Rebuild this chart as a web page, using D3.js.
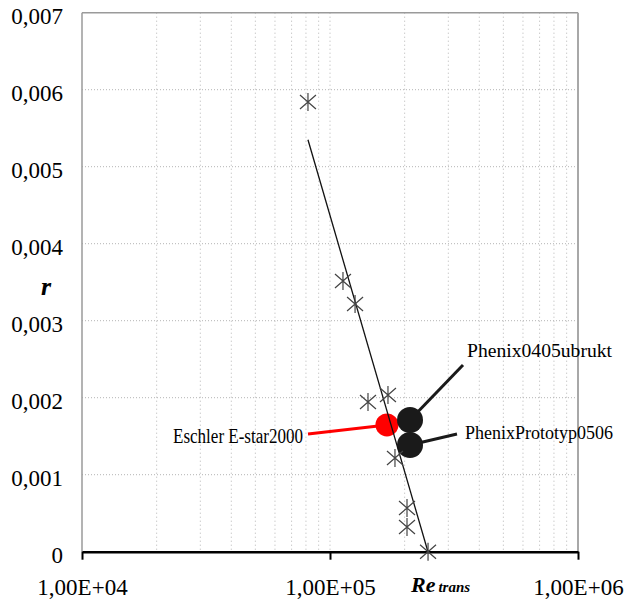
<!DOCTYPE html>
<html>
<head>
<meta charset="utf-8">
<script src="https://cdn.jsdelivr.net/npm/d3@7"></script>
</head>
<body style="margin:0;background:#fff">
<svg id="chart" width="625" height="603" font-family="Liberation Serif"></svg>
<script>
// Measured transition Reynolds number vs. roughness parameter r
const reTrans = [81500, 112800, 126200, 142300, 171300, 182800, 204400, 204400, 248500];
const rValues = [0.00584, 0.003516, 0.003217, 0.001944, 0.002035, 0.001217, 0.000567, 0.00032, 0];

// Logarithmic trend line end points (Re, r)
const trendRe = [81500, 248300];
const trendR = [0.00535, 0];

// Highlighted boats
const boatNames = ["Eschler E-star2000", "Phenix0405ubrukt", "PhenixPrototyp0506"];
const boatRe = [169700, 210200, 210200];
const boatR = [0.001646, 0.001711, 0.001386];
const boatColors = ["#ff0000", "#1a1a1a", "#1a1a1a"];

// Axis tick values and labels
const xTicks = [1e4, 1e5, 1e6];
const xTickLabels = ["1,00E+04", "1,00E+05", "1,00E+06"];
const yTicks = [0, 0.001, 0.002, 0.003, 0.004, 0.005, 0.006, 0.007];
const yTickLabels = ["0", "0,001", "0,002", "0,003", "0,004", "0,005", "0,006", "0,007"];

const FONT = "Liberation Serif";
const svg = d3.select("#chart");
const plotL = 82, plotR = 578, plotT = 12.7, plotB = 551.7;

const x = d3.scaleLog().domain([1e4, 1e6]).range([plotL, plotR]);
const y = d3.scaleLinear().domain([0, 0.007]).range([plotB, plotT]);

// Dotted grid: every log minor step vertically, every 0.001 horizontally
const minorX = [];
[1e4, 1e5].forEach(d => { for (let k = 1; k <= 9; k++) minorX.push(d * k); });
svg.append("g").selectAll("line").data(minorX.filter(v => v > 1e4)).join("line")
  .attr("x1", d => x(d)).attr("x2", d => x(d))
  .attr("y1", plotT).attr("y2", plotB)
  .attr("stroke", "#b4b4b4").attr("stroke-width", 1).attr("stroke-dasharray", "1,3");
svg.append("g").selectAll("line").data(yTicks.slice(1, -1)).join("line")
  .attr("x1", plotL).attr("x2", plotR)
  .attr("y1", d => y(d)).attr("y2", d => y(d))
  .attr("stroke", "#b4b4b4").attr("stroke-width", 1).attr("stroke-dasharray", "1,2");

// Plot frame (top, left, right)
svg.append("line").attr("x1", plotL).attr("x2", plotR).attr("y1", plotT).attr("y2", plotT)
  .attr("stroke", "#9a9a9a").attr("stroke-width", 1.5);
svg.append("line").attr("x1", plotL).attr("x2", plotL).attr("y1", plotT).attr("y2", plotB)
  .attr("stroke", "#9a9a9a").attr("stroke-width", 1.5);
svg.append("line").attr("x1", plotR).attr("x2", plotR).attr("y1", plotT).attr("y2", plotB)
  .attr("stroke", "#a8a8a8").attr("stroke-width", 2);

// Y tick labels
svg.append("g").selectAll("text").data(yTicks).join("text")
  .attr("x", 63).attr("y", d => y(d) + 11)
  .attr("text-anchor", "end")
  .style("font-family", FONT).style("font-size", "23px").attr("fill", "#000")
  .text((d, i) => yTickLabels[i]);

// X axis: bold base line with tick marks and labels
const xAxis = svg.append("g").attr("transform", `translate(0,${plotB})`)
  .call(d3.axisBottom(x).tickValues(xTicks).tickSize(8).tickSizeOuter(0)
    .tickFormat((d, i) => xTickLabels[i]));
xAxis.attr("font-family", FONT).attr("font-size", 23);
xAxis.select(".domain").attr("stroke", "#000").attr("stroke-width", 2.5);
xAxis.selectAll(".tick line").attr("stroke", "#000").attr("stroke-width", 2);
xAxis.selectAll(".tick text")
  .style("font-family", FONT).style("font-size", "23px")
  .attr("fill", "#000").attr("y", 43).attr("dy", 0);

// Leader lines and labels for the highlighted boats
const labelLayout = [
  { lx: 303, ly: 443, anchor: "end", lineEnd: [308, 434], width: 130, size: 20 },
  { lx: 467, ly: 357, anchor: "start", lineEnd: [463, 365], width: 145, size: 19 },
  { lx: 465, ly: 439, anchor: "start", lineEnd: [457, 434], width: 148, size: 18 }
];
const boats = boatNames.map((n, i) => ({ name: n, re: boatRe[i], r: boatR[i], color: boatColors[i], lay: labelLayout[i] }));

svg.append("g").selectAll("line").data(boats).join("line")
  .attr("x1", d => x(d.re)).attr("y1", d => y(d.r))
  .attr("x2", d => d.lay.lineEnd[0]).attr("y2", d => d.lay.lineEnd[1])
  .attr("stroke", d => d.color).attr("stroke-width", 3);

svg.append("g").selectAll("circle").data(boats).join("circle")
  .attr("cx", d => x(d.re)).attr("cy", d => y(d.r))
  .attr("r", (d, i) => i === 0 ? 11.5 : 13)
  .attr("fill", d => d.color);

svg.append("g").selectAll("text").data(boats).join("text")
  .attr("x", d => d.lay.lx).attr("y", d => d.lay.ly)
  .attr("text-anchor", d => d.lay.anchor)
  .style("font-family", FONT).style("font-size", d => d.lay.size + "px").attr("fill", "#000")
  .attr("textLength", d => d.lay.width).attr("lengthAdjust", "spacingAndGlyphs")
  .text(d => d.name);

// Trend line
svg.append("line")
  .attr("x1", x(trendRe[0])).attr("y1", y(trendR[0]))
  .attr("x2", x(trendRe[1])).attr("y2", y(trendR[1]))
  .attr("stroke", "#111").attr("stroke-width", 1.3);

// Star markers for measured points
const pts = reTrans.map((v, i) => [v, rValues[i]]);
const star = "M-8,-7L8,7M-8,7L8,-7M0,-9L0,9";
svg.append("g").selectAll("path").data(pts).join("path")
  .attr("transform", d => `translate(${x(d[0])},${y(d[1])})`)
  .attr("d", star)
  .attr("stroke", "#444").attr("stroke-width", 1.2).attr("fill", "none");

// Axis titles
svg.append("text").attr("x", 46).attr("y", 295).attr("text-anchor", "middle")
  .style("font-family", FONT).style("font-size", "26px").attr("fill", "#000")
  .attr("font-weight", "bold").attr("font-style", "italic").text("r");
const xt = svg.append("text").attr("x", 411).attr("y", 592)
  .style("font-family", FONT).attr("fill", "#000")
  .attr("font-weight", "bold").attr("font-style", "italic");
xt.append("tspan").style("font-size", "22px").text("Re");
xt.append("tspan").style("font-size", "15px").attr("dx", 3).text("trans");
</script>
</body>
</html>
